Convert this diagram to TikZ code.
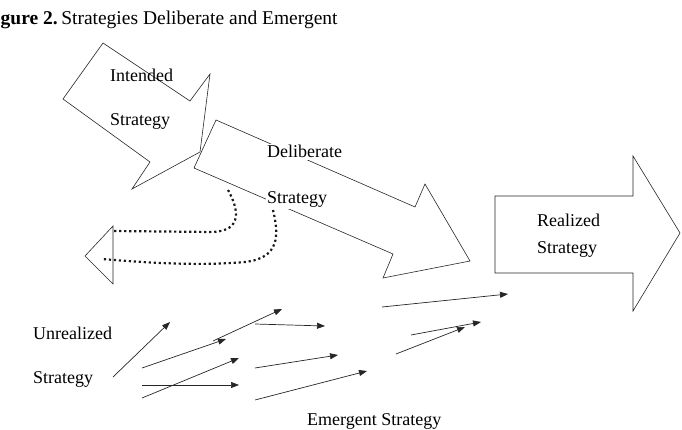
\documentclass[tikz,border=0pt]{standalone}
\usepackage{fontspec}
\setmainfont{Liberation Serif}
\usetikzlibrary{arrows.meta}
\begin{document}
\begin{tikzpicture}[x=1pt,y=-1pt,
  shapeline/.style={draw=black!85,line width=0.6pt,line join=miter},
  lbl/.style={anchor=base west,inner sep=0pt,font=\fontsize{18}{20}\selectfont},
  wlbl/.style={lbl,fill=white,inner sep=1.5pt},
  dotline/.style={draw=black!90,line width=2.2pt,dash pattern=on 2.2pt off 2.8pt},
  emarrow/.style={draw=black!85,line width=0.7pt,-{Triangle[length=8pt,width=6pt]}}]
\useasboundingbox (0,0) rectangle (682,430);
% title
\node[lbl,font=\fontsize{19.5}{22}\selectfont] (title) at (0.5,25) {\textbf{gure 2.}\hspace{-3pt} Strategies Deliberate and Emergent};
% intended strategy arrow
\draw[shapeline] (103,43) -- (190,101) -- (210,74) -- (200,152) -- (132,189) -- (150,162) -- (63,99) -- cycle;
\node[lbl] (int1) at (110,82) {Intended};
\node[lbl] (int2) at (110,126) {Strategy};
% deliberate strategy arrow
\draw[shapeline] (216,120) -- (415,207) -- (425,184) -- (470,261) -- (383,278) -- (393,254) -- (194,168) -- cycle;
\node[wlbl] (del1) at (265.5,158) {Deliberate};
\node[wlbl] (del2) at (265.5,204) {Strategy};
% realized strategy arrow
\draw[shapeline] (495,196) -- (633,196) -- (633,156) -- (680,233) -- (633,311) -- (633,273) -- (495,273) -- cycle;
\node[lbl] (rea1) at (537,226) {Realized};
\node[lbl] (rea2) at (537,254) {Strategy};
% unrealized small arrow head
\draw[shapeline] (113,226) -- (85,256) -- (113,284) -- cycle;
% dotted curves
\draw[dotline] (228,190) .. controls (238,208) and (244,231) .. (212,232) -- (114,231);
\draw[dotline] (273,210) .. controls (279,235) and (280,258) .. (245,262) .. controls (200,266) and (150,263) .. (102,259);
% labels
\node[lbl] (unr1) at (33,339) {Unrealized};
\node[lbl] (unr2) at (33,383) {Strategy};
\node[lbl] (eme) at (307,425) {Emergent Strategy};
% emergent arrows
\foreach \i/\a/\b/\c/\d in {1/113/377/170/322, 2/142/368/226/339, 3/213/341/282/309,
  4/255/324/325/326, 5/142/398/239/358, 6/142/385/239/385, 7/255/368/338/355,
  8/255/400/367/371, 9/382/307/508/294, 10/411/335/481/322, 11/396/354/465/327}{
  \coordinate (s\i) at (\a,\b);
  \coordinate (t\i) at (\c,\d);
  \draw[emarrow] (s\i) -- (t\i);
}
\end{tikzpicture}
\end{document}
